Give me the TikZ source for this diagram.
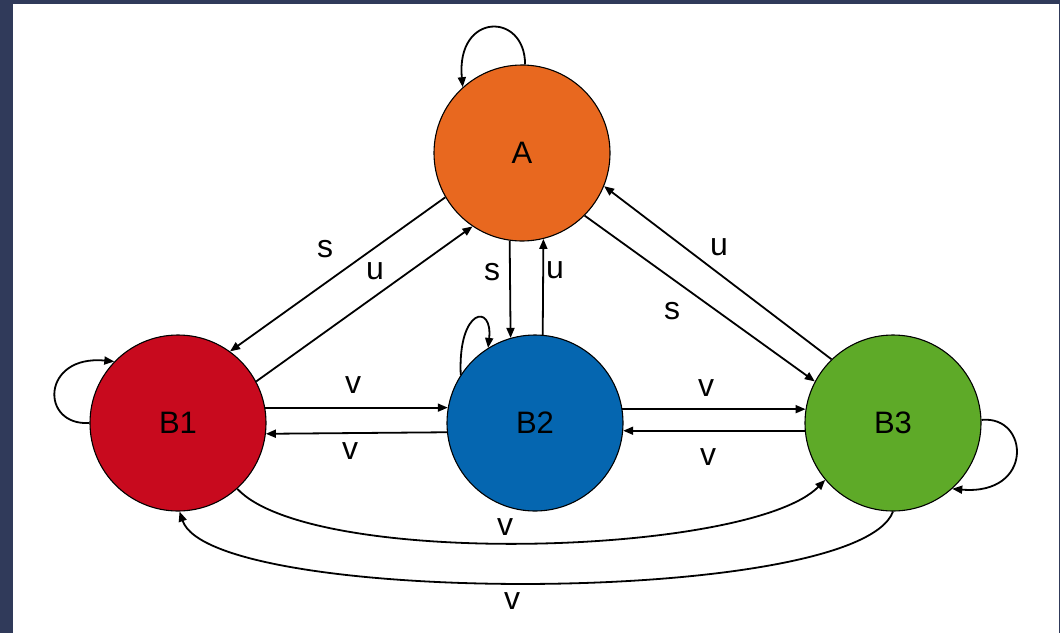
\documentclass[tikz,border=0pt]{standalone}
\usepackage{fontspec}
\setmainfont{Liberation Sans}
\usetikzlibrary{arrows.meta}
\definecolor{frame}{HTML}{303A5A}
\definecolor{stA}{HTML}{E8681F}
\definecolor{stB1}{HTML}{C80A1E}
\definecolor{stB2}{HTML}{0566B0}
\definecolor{stB3}{HTML}{5EAA28}
\tikzset{
  state/.style={circle, draw=black, line width=1.1pt, minimum size=176pt, inner sep=0pt,
                font=\fontsize{31}{31}\selectfont},
  lbl/.style={inner sep=0pt, font=\fontsize{32}{32}\selectfont},
  trans/.style={draw=black, line width=1.8pt, -{Triangle[length=10pt,width=8pt]}},
}
\begin{document}
\begin{tikzpicture}[x=1pt, y=-1pt]
  % frame and canvas
  \fill[frame] (0,0) rectangle (1060,633);
  \fill[white] (13,4) rectangle (1059,633);
  \useasboundingbox (0,0) rectangle (1060,633);

  % states
  \node[state, fill=stA]  (A)  at (522,153) {A};
  \node[state, fill=stB1] (B1) at (178,423) {B1};
  \node[state, fill=stB2] (B2) at (535,423) {B2};
  \node[state, fill=stB3] (B3) at (893,423) {B3};

  % A <-> B1
  \draw[trans] (A.210) -- (B1.54);
  \draw[trans] (B1.28) -- (A.236);
  \node[lbl] (sAB1) at (325,249) {s};
  \node[lbl] (uB1A) at (375,271) {u};

  % A <-> B2
  \draw[trans] (A.262) -- (B2.106);
  \draw[trans] (B2.85) -- (A.284);
  \node[lbl] (sAB2) at (492,272) {s};
  \node[lbl] (uB2A) at (555,270) {u};

  % A <-> B3
  \draw[trans] (A.315) -- (B3.152);
  \draw[trans] (B3.134) -- (A.338);
  \node[lbl] (sAB3) at (672,311) {s};
  \node[lbl] (uB3A) at (719,247) {u};

  % B1 <-> B2
  \draw[trans] (B1.10) -- (B2.170);
  \draw[trans] (B2.186.5) -- (B1.353.5);
  \node[lbl] (vB1B2) at (353,385) {v};
  \node[lbl] (vB2B1) at (350,451) {v};

  % B2 <-> B3
  \draw[trans] (B2.9) -- (B3.171);
  \draw[trans] (B3.185) -- (B2.355);
  \node[lbl] (vB2B3) at (706,388) {v};
  \node[lbl] (vB3B2) at (708,457) {v};

  % B1 <-> B3 around the bottom
  \draw[trans] (B1.312) .. controls +(75,80) and +(-75,76) .. (B3.220);
  \draw[trans] (B3.270) .. controls +(-35,95) and +(32,95) .. (B1.271);
  \node[lbl] (vB1B3) at (505,527) {v};
  \node[lbl] (vB3B1) at (512,601) {v};

  % self loops
  \draw[trans] (A.88) .. controls +(0,-53) and +(-7,-75) .. (A.132);
  \draw[trans] (B1.180) .. controls +(-50,3) and +(-73,-7) .. (B1.136);
  \draw[trans] (B2.147) .. controls +(-3,-67) and +(5,-45) .. (B2.122);
  \draw[trans] (B3.2) .. controls +(48,-5) and +(82,7) .. (B3.312);
\end{tikzpicture}
\end{document}
